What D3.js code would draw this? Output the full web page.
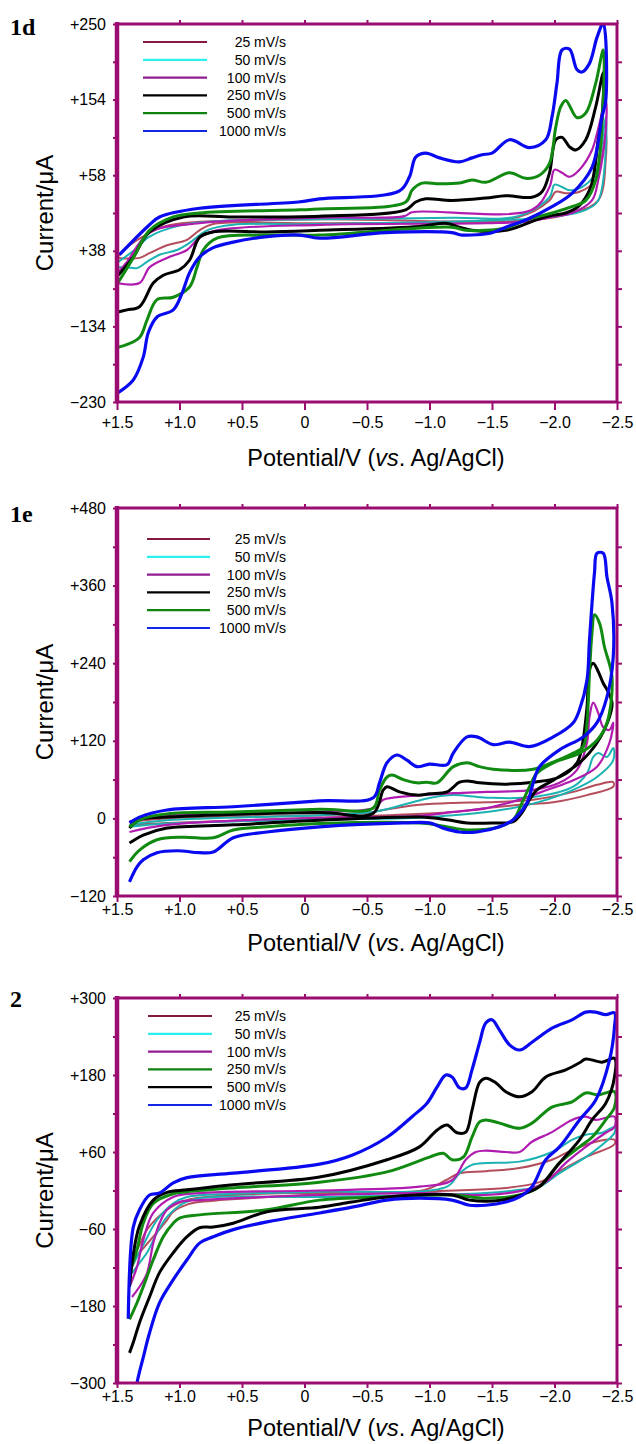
<!DOCTYPE html>
<html>
<head>
<meta charset="utf-8">
<script src="https://cdn.jsdelivr.net/npm/d3@7"></script>
<style>
  body { margin: 0; background: #fff; }
  svg { display: block; }
</style>
</head>
<body>
<div id="vis"></div>
<script>
// potential axis (same for all three panels)
const potentialTicks = [1.5, 1.0, 0.5, 0, -0.5, -1.0, -1.5, -2.0, -2.5];
const potentialLabels = ["+1.5", "+1.0", "+0.5", "0", "\u22120.5", "\u22121.0", "\u22121.5", "\u22122.0", "\u22122.5"];
const rateLabels = ["25 mV/s", "50 mV/s", "100 mV/s", "250 mV/s", "500 mV/s", "1000 mV/s"];

// current axis ticks, as printed
const currentTicks1d = [250, 154, 58, -38, -134, -230];
const currentLabels1d = ["+250", "+154", "+58", "+38", "\u2212134", "\u2212230"];
const currentTicks1e = [480, 360, 240, 120, 0, -120];
const currentLabels1e = ["+480", "+360", "+240", "+120", "0", "\u2212120"];
const currentTicks2 = [300, 180, 60, -60, -180, -300];
const currentLabels2 = ["+300", "+180", "+60", "\u221260", "\u2212180", "\u2212300"];

// voltammograms [E (V), I (uA)], forward scan then return scan
const cv1d_25 = [[1.49,-45],[1.40,-31],[1.26,-17],[1.12,-7],[0.92,-2],[-0.12,2],[-1.71,5],[-1.96,26],[-2.01,37],[-2.09,35],[-2.20,37],[-2.33,52],[-2.41,112],
  [-2.41,77],[-2.35,26],[-2.14,10],[-1.82,1],[-0.12,-3],[0.73,-4],[0.84,-12],[0.94,-24],[1.10,-31],[1.24,-41],[1.32,-47],[1.50,-47]];
const cv1d_50 = [[1.49,-52],[1.36,-37],[1.24,-20],[1.00,-6],[0.68,0],[-0.12,2],[-1.18,4],[-1.71,6],[-1.96,30],[-2.00,46],[-2.06,43],[-2.12,39],[-2.22,43],[-2.33,61],[-2.41,132],
  [-2.41,90],[-2.35,26],[-2.25,14],[-1.98,5],[-0.12,-4],[0.57,-5],[0.78,-12],[0.92,-28],[1.02,-37],[1.16,-43],[1.26,-52],[1.34,-60],[1.42,-59],[1.50,-59]];
const cv1d_100 = [[1.49,-65],[1.42,-52],[1.24,-15],[0.84,-3],[-0.12,4],[-0.80,6],[-0.86,11],[-1.82,14],[-1.96,43],[-2.00,65],[-2.06,61],[-2.12,56],[-2.20,65],[-2.30,90],[-2.41,153],
  [-2.41,115],[-2.35,52],[-2.30,26],[-2.14,10],[-1.98,5],[-1.77,-1],[-1.45,-3],[-0.12,-5],[0.70,-12],[0.84,-21],[0.94,-37],[1.10,-47],[1.24,-59],[1.32,-79],[1.50,-79]];
const cv1d_250 = [[1.49,-69],[1.37,-46],[1.24,-14],[0.97,5],[0.57,5],[-0.12,6],[-0.81,14],[-0.89,24],[-0.97,28],[-1.18,26],[-1.45,29],[-1.61,32],[-1.82,30],[-1.90,37],[-1.96,61],[-2.01,103],[-2.06,106],[-2.12,94],[-2.17,90],[-2.25,103],[-2.33,145],[-2.39,188],
  [-2.38,132],[-2.35,103],[-2.29,43],[-2.19,18],[-2.09,10],[-1.98,7],[-1.85,1],[-1.61,-12],[-1.34,-12],[-1.24,-8],[-1.13,-3],[-0.92,-7],[-0.12,-12],[0.30,-14],[0.73,-14],[0.84,-21],[0.92,-50],[1.00,-62],[1.13,-69],[1.21,-79],[1.32,-109],[1.42,-113],[1.50,-116]];
const cv1d_500 = [[1.49,-78],[1.37,-47],[1.24,-12],[1.05,5],[0.84,10],[0.04,14],[-0.12,15],[-0.81,24],[-0.86,39],[-0.94,48],[-1.08,47],[-1.24,48],[-1.34,52],[-1.45,49],[-1.64,61],[-1.77,54],[-1.88,58],[-1.96,73],[-2.01,119],[-2.05,145],[-2.09,153],[-2.18,131],[-2.25,137],[-2.33,175],[-2.39,217],
  [-2.39,153],[-2.33,52],[-2.25,26],[-2.14,18],[-1.98,10],[-1.77,1],[-1.61,-9],[-1.29,-12],[-1.18,-8],[-0.12,-18],[0.30,-18],[0.70,-22],[0.81,-37],[0.86,-59],[0.92,-84],[1.05,-97],[1.18,-100],[1.26,-126],[1.32,-148],[1.48,-160],[1.50,-160]];
const cv1d_1000 = [[1.48,-43],[1.24,-5],[1.16,5],[0.84,16],[0.05,24],[-0.12,28],[-0.76,38],[-0.84,56],[-0.89,81],[-0.97,86],[-1.08,80],[-1.24,75],[-1.34,80],[-1.42,84],[-1.50,86],[-1.64,103],[-1.80,93],[-1.93,103],[-1.98,132],[-2.02,175],[-2.06,217],[-2.12,218],[-2.18,192],[-2.22,189],[-2.28,200],[-2.34,233],[-2.39,251],
  [-2.41,153],[-2.38,132],[-2.30,68],[-2.14,35],[-1.98,18],[-1.77,1],[-1.61,-8],[-1.50,-15],[-1.26,-18],[-1.18,-15],[-0.65,-15],[-0.12,-22],[0.04,-18],[0.30,-20],[0.57,-27],[0.73,-34],[0.84,-46],[0.92,-66],[0.98,-92],[1.05,-113],[1.18,-122],[1.25,-142],[1.29,-173],[1.37,-202],[1.50,-219]];

const cv1e_25 = [[1.40,-5],[1.10,0],[-0.12,5],[-0.55,10],[-0.63,13],[-0.92,21],[-1.19,24],[-1.46,25],[-1.83,29],[-2.15,41],[-2.34,52],[-2.47,56],
  [-2.47,49],[-2.26,36],[-1.99,25],[-1.72,21],[-1.46,16],[-1.19,10],[-0.12,1],[1.10,-7],[1.40,-10]];
const cv1e_50 = [[1.40,-10],[1.10,-3],[-0.12,5],[-0.55,10],[-0.63,13],[-1.01,32],[-1.19,36],[-1.46,32],[-1.83,33],[-2.15,49],[-2.26,70],[-2.31,95],[-2.35,101],[-2.42,95],[-2.47,109],
  [-2.47,90],[-2.34,64],[-2.15,44],[-1.94,29],[-1.72,18],[-1.46,10],[-1.19,5],[-0.92,1],[-0.12,-2],[1.10,-8],[1.40,-13]];
const cv1e_100 = [[1.40,-5],[1.10,5],[-0.12,10],[-0.55,16],[-0.63,29],[-0.71,32],[-1.19,39],[-1.46,41],[-1.83,44],[-2.04,55],[-2.18,75],[-2.26,117],[-2.28,157],[-2.31,179],[-2.35,163],[-2.39,141],[-2.44,137],[-2.47,148],
  [-2.44,117],[-2.34,80],[-2.15,59],[-1.94,44],[-1.72,29],[-1.46,16],[-1.19,10],[-0.92,4],[-0.12,1],[1.10,-10],[1.40,-21]];
const cv1e_250 = [[1.40,-15],[1.32,-2],[1.10,2],[-0.12,9],[-0.55,8],[-0.63,44],[-0.66,49],[-0.76,41],[-0.90,36],[-1.00,38],[-1.14,41],[-1.24,56],[-1.30,58],[-1.40,55],[-1.62,53],[-1.83,56],[-2.04,64],[-2.18,86],[-2.22,111],[-2.26,172],[-2.28,230],[-2.31,240],[-2.35,227],[-2.39,209],[-2.42,199],[-2.46,179],
  [-2.44,157],[-2.34,117],[-2.20,86],[-1.99,59],[-1.86,44],[-1.80,29],[-1.74,9],[-1.67,-5],[-1.51,-7],[-1.30,-7],[-1.14,-2],[-0.92,2],[-0.12,-3],[0.57,-10],[1.10,-15],[1.29,-26],[1.40,-38]];
const cv1e_500 = [[1.40,-13],[1.29,0],[1.10,7],[0.57,10],[-0.12,14],[-0.55,16],[-0.60,44],[-0.66,64],[-0.70,67],[-0.79,60],[-0.90,55],[-0.98,56],[-1.06,55],[-1.19,80],[-1.30,86],[-1.40,80],[-1.51,76],[-1.83,76],[-1.99,87],[-2.15,101],[-2.23,111],[-2.26,148],[-2.28,225],[-2.30,287],[-2.32,315],[-2.36,302],[-2.40,265],[-2.46,219],
  [-2.42,148],[-2.34,121],[-2.20,101],[-1.99,86],[-1.86,70],[-1.80,49],[-1.74,24],[-1.67,-2],[-1.56,-13],[-1.32,-18],[-1.19,-15],[-1.06,-10],[-0.92,-7],[-0.12,-8],[0.30,-13],[0.57,-18],[0.73,-30],[0.97,-29],[1.18,-33],[1.32,-49],[1.40,-67]];
const cv1e_1000 = [[1.40,-7],[1.32,2],[1.10,13],[0.57,18],[-0.12,27],[-0.55,32],[-0.60,55],[-0.66,86],[-0.74,98],[-0.82,90],[-0.90,80],[-1.00,84],[-1.14,83],[-1.19,101],[-1.30,126],[-1.38,126],[-1.51,114],[-1.64,118],[-1.80,111],[-1.99,126],[-2.15,148],[-2.20,168],[-2.26,214],[-2.28,276],[-2.32,380],[-2.34,410],[-2.39,410],[-2.42,373],[-2.46,333],[-2.47,250],
  [-2.42,188],[-2.34,148],[-2.23,126],[-2.04,106],[-1.88,80],[-1.83,55],[-1.78,24],[-1.67,-2],[-1.56,-13],[-1.38,-21],[-1.24,-21],[-1.11,-15],[-1.00,-7],[-0.79,-7],[-0.12,-13],[0.30,-21],[0.57,-30],[0.73,-52],[0.84,-53],[1.02,-50],[1.18,-53],[1.29,-64],[1.34,-75],[1.40,-98]];

const cv2_25 = [[1.40,-113],[1.32,-85],[1.26,-61],[1.10,-30],[0.94,-15],[0.57,-7],[-0.12,-3],[-0.96,1],[-1.13,16],[-1.24,27],[-1.45,30],[-1.72,35],[-1.98,48],[-2.14,63],[-2.33,76],[-2.48,79],
  [-2.48,72],[-2.25,52],[-2.04,30],[-1.88,13],[-1.61,4],[-0.12,-6],[0.84,-18],[0.94,-22],[1.05,-33],[1.10,-46],[1.21,-72],[1.32,-97],[1.40,-116]];
const cv2_50 = [[1.38,-119],[1.29,-85],[1.18,-46],[1.05,-20],[0.94,-10],[0.57,-5],[-0.12,-2],[-1.14,6],[-1.24,27],[-1.34,40],[-1.45,43],[-1.72,45],[-1.98,60],[-2.14,79],[-2.25,87],[-2.38,90],[-2.48,99],
  [-2.48,90],[-2.41,76],[-2.25,52],[-2.04,27],[-1.88,6],[-1.72,1],[-1.45,-4],[-0.12,-10],[0.84,-12],[0.97,-20],[1.10,-41],[1.18,-66],[1.26,-97],[1.32,-113],[1.38,-129]];
const cv2_100 = [[1.40,-150],[1.34,-119],[1.29,-77],[1.21,-35],[1.05,-10],[0.84,-4],[-0.12,0],[-0.92,6],[-1.18,16],[-1.29,48],[-1.37,60],[-1.45,62],[-1.61,60],[-1.72,60],[-1.82,76],[-1.98,91],[-2.14,110],[-2.25,115],[-2.33,110],[-2.48,115],
  [-2.48,99],[-2.41,90],[-2.25,68],[-2.09,43],[-1.93,13],[-1.77,1],[-1.45,-7],[-0.92,-4],[-0.12,-7],[0.30,-10],[0.84,-15],[1.00,-18],[1.10,-30],[1.16,-51],[1.21,-82],[1.26,-129],[1.32,-150],[1.38,-166]];
const cv2_250 = [[1.40,-129],[1.34,-92],[1.29,-51],[1.21,-20],[1.05,-5],[0.94,-2],[0.57,4],[-0.12,13],[-0.66,29],[-1.00,52],[-1.11,58],[-1.18,48],[-1.27,52],[-1.34,83],[-1.40,107],[-1.45,110],[-1.56,105],[-1.72,97],[-1.82,105],[-1.98,130],[-2.14,138],[-2.25,152],[-2.35,149],[-2.48,154],
  [-2.48,130],[-2.41,110],[-2.30,83],[-2.20,68],[-2.04,43],[-1.88,6],[-1.72,-7],[-1.45,-12],[-1.18,-7],[-0.66,-10],[-0.12,-15],[0.30,-30],[0.84,-38],[1.00,-43],[1.05,-51],[1.13,-72],[1.21,-108],[1.29,-150],[1.34,-175],[1.40,-201]];
const cv2_500 = [[1.40,-150],[1.37,-100],[1.32,-55],[1.21,-15],[1.10,-3],[0.94,1],[0.57,9],[-0.12,21],[-0.66,48],[-0.92,68],[-1.06,94],[-1.14,102],[-1.22,90],[-1.29,91],[-1.34,125],[-1.40,168],[-1.45,175],[-1.53,168],[-1.61,154],[-1.72,146],[-1.82,154],[-1.93,177],[-2.09,188],[-2.20,199],[-2.25,205],[-2.38,200],[-2.48,206],
  [-2.48,177],[-2.41,136],[-2.30,110],[-2.20,79],[-2.04,43],[-1.88,6],[-1.77,-4],[-1.58,-15],[-1.32,-15],[-1.18,-7],[-0.66,-10],[-0.38,-18],[-0.12,-26],[0.30,-33],[0.57,-51],[0.73,-57],[0.84,-58],[0.94,-72],[1.05,-97],[1.16,-128],[1.24,-166],[1.32,-206],[1.37,-237],[1.40,-253]];
const cv2_1000 = [[1.41,-200],[1.37,-57],[1.32,-30],[1.24,-7],[1.16,-4],[1.05,12],[0.94,20],[0.57,27],[-0.12,41],[-0.38,55],[-0.66,83],[-0.86,115],[-0.98,136],[-1.06,161],[-1.13,180],[-1.18,177],[-1.24,160],[-1.29,160],[-1.34,188],[-1.40,230],[-1.45,261],[-1.50,266],[-1.56,250],[-1.64,227],[-1.72,219],[-1.82,231],[-1.98,253],[-2.14,266],[-2.25,278],[-2.33,278],[-2.41,274],[-2.48,277],
  [-2.48,255],[-2.44,203],[-2.33,141],[-2.20,110],[-2.04,68],[-1.93,48],[-1.82,6],[-1.72,-10],[-1.61,-18],[-1.45,-23],[-1.32,-23],[-1.18,-15],[-0.92,-12],[-0.66,-15],[-0.38,-26],[-0.12,-35],[0.30,-49],[0.57,-61],[0.73,-72],[0.84,-82],[0.94,-108],[1.05,-139],[1.16,-175],[1.24,-222],[1.29,-260],[1.34,-300],[1.36,-330]];

const width = 636;
const height = 1444;
const plotLeft = 117, plotRight = 617;
const frameColor = "#9b0c70";
const sansFont = "'Liberation Sans', Arial, Helvetica, sans-serif";

const rosy = "#b44d5c", teal = "#1cb2b2", magenta = "#b01cb0", black = "#000000", green = "#118a11", blue = "#0a0af0";
const curveColors = [rosy, teal, magenta, black, green, blue];
const curveColors2 = [rosy, teal, magenta, green, black, blue];
const legendColors = ["#861844", "#2cf0f0", "#921c92", "#000000", "#0f820f", "#1226e6"];
const legendColors2 = ["#861844", "#2cf0f0", "#921c92", "#0f820f", "#000000", "#1226e6"];
const curveWidths = [2, 2, 2.2, 3, 3, 3.2];

const panels = [
  { name: "1d", top: 24, bottom: 402, ticks: currentTicks1d, labels: currentLabels1d,
    series: [cv1d_25, cv1d_50, cv1d_100, cv1d_250, cv1d_500, cv1d_1000],
    colors: curveColors, legend: legendColors,
    legendTop: 42, legendX: [143, 207], nameY: 35, xTick: 8, xPad: 6.6, titleY: 466 },
  { name: "1e", top: 508, bottom: 896, ticks: currentTicks1e, labels: currentLabels1e,
    series: [cv1e_25, cv1e_50, cv1e_100, cv1e_250, cv1e_500, cv1e_1000],
    colors: curveColors, legend: legendColors,
    legendTop: 539, legendX: [147, 210], nameY: 522, xTick: 6, xPad: 1.8, titleY: 951 },
  { name: "2", top: 998, bottom: 1383, ticks: currentTicks2, labels: currentLabels2,
    series: [cv2_25, cv2_50, cv2_100, cv2_250, cv2_500, cv2_1000],
    colors: curveColors2, legend: legendColors2,
    legendTop: 1016, legendX: [148, 212], nameY: 1007, xTick: 5, xPad: 2.8, titleY: 1436 }
];

const svg = d3.select("#vis")
  .append("svg")
  .attr("width", width)
  .attr("height", height)
  .style("background-color", "#fff");

const xScale = d3.scaleLinear().domain([1.5, -2.5]).range([plotLeft, plotRight]);

panels.forEach((p, k) => {
  const yScale = d3.scaleLinear()
    .domain([p.ticks[p.ticks.length - 1], p.ticks[0]])
    .range([p.bottom, p.top]);
  const minor = d3.pairs(p.ticks).map(([a, b]) => (a + b) / 2);
  const allTicks = p.ticks.concat(minor);
  const g = svg.append("g");

  g.append("clipPath").attr("id", "clip" + k)
    .append("rect")
    .attr("x", plotLeft).attr("y", p.top)
    .attr("width", plotRight - plotLeft).attr("height", p.bottom - p.top);

  // curves
  const line = d3.line()
    .x(d => xScale(d[0]))
    .y(d => yScale(d[1]))
    .curve(d3.curveCatmullRom.alpha(0.5));
  g.append("g")
    .attr("clip-path", "url(#clip" + k + ")")
    .selectAll("path")
    .data(p.series)
    .join("path")
    .attr("d", line)
    .attr("fill", "none")
    .attr("stroke", (d, i) => p.colors[i])
    .attr("stroke-width", (d, i) => curveWidths[i])
    .attr("stroke-linejoin", "round");

  // axes
  const bottomAxis = g.append("g")
    .attr("transform", "translate(0," + p.bottom + ")")
    .call(d3.axisBottom(xScale).tickValues(potentialTicks)
      .tickFormat((d, i) => potentialLabels[i]).tickSize(p.xTick).tickPadding(p.xPad));
  const topAxis = g.append("g")
    .attr("transform", "translate(0," + p.top + ")")
    .call(d3.axisTop(xScale).tickValues(potentialTicks.slice(1)).tickFormat("").tickSize(4));
  const leftAxis = g.append("g")
    .attr("transform", "translate(" + plotLeft + ",0)")
    .call(d3.axisLeft(yScale).tickValues(allTicks)
      .tickFormat(d => { const i = p.ticks.indexOf(d); return i < 0 ? "" : p.labels[i]; })
      .tickSize(4).tickPadding(7));
  const rightAxis = g.append("g")
    .attr("transform", "translate(" + plotRight + ",0)")
    .call(d3.axisRight(yScale).tickValues(allTicks.slice(1)).tickFormat("").tickSize(5));

  [bottomAxis, topAxis, leftAxis, rightAxis].forEach(a => {
    a.attr("font-family", sansFont).attr("font-size", 16);
    a.select(".domain").remove();
    a.selectAll(".tick line").attr("stroke", frameColor).attr("stroke-width", 2);
    a.selectAll(".tick text").attr("fill", "#000");
  });

  // frame
  g.append("rect")
    .attr("x", plotLeft).attr("y", p.top)
    .attr("width", plotRight - plotLeft).attr("height", p.bottom - p.top)
    .attr("fill", "none")
    .attr("stroke", frameColor)
    .attr("stroke-width", 3);
  g.append("line")
    .attr("x1", plotLeft).attr("x2", plotLeft)
    .attr("y1", p.top - 2).attr("y2", p.bottom + 1)
    .attr("stroke", frameColor)
    .attr("stroke-width", 4.5);

  // legend
  const rowY = d3.scaleLinear().domain([0, 1]).range([p.legendTop, p.legendTop + 17.8]);
  const legend = g.append("g");
  legend.selectAll("line")
    .data(rateLabels)
    .join("line")
    .attr("x1", p.legendX[0]).attr("x2", p.legendX[1])
    .attr("y1", (d, i) => rowY(i)).attr("y2", (d, i) => rowY(i))
    .attr("stroke", (d, i) => p.legend[i])
    .attr("stroke-width", 2.2);
  legend.selectAll("text")
    .data(rateLabels)
    .join("text")
    .attr("x", 286)
    .attr("y", (d, i) => rowY(i))
    .attr("dy", "0.36em")
    .attr("text-anchor", "end")
    .attr("font-family", sansFont)
    .attr("font-size", 14)
    .text(d => d);

  // titles
  g.append("text")
    .attr("x", 10).attr("y", p.nameY)
    .attr("font-family", "'Liberation Serif', 'Times New Roman', serif")
    .attr("font-weight", "bold")
    .attr("font-size", 24)
    .text(p.name);

  const xt = g.append("text")
    .attr("x", 376).attr("y", p.titleY)
    .attr("text-anchor", "middle")
    .attr("font-family", sansFont)
    .attr("font-size", 23.5);
  xt.append("tspan").text("Potential/V (");
  xt.append("tspan").attr("font-style", "italic").text("vs");
  xt.append("tspan").text(". Ag/AgCl)");

  g.append("text")
    .attr("transform", "translate(53," + (p.top + p.bottom) / 2 + ") rotate(-90)")
    .attr("text-anchor", "middle")
    .attr("font-family", sansFont)
    .attr("font-size", 24)
    .text("Current/\u03bcA");
});
</script>
</body>
</html>
